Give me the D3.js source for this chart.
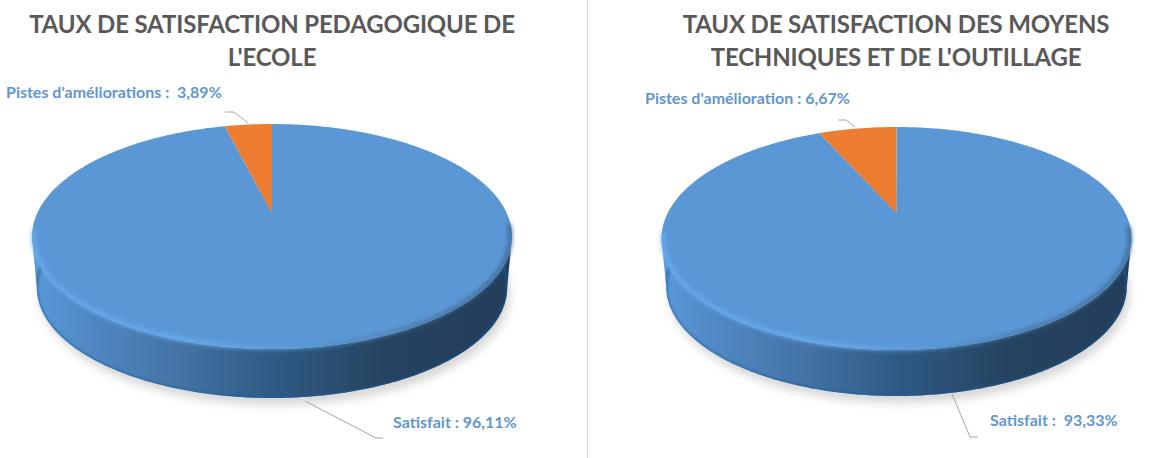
<!DOCTYPE html>
<meta charset="utf-8">
<head>
    <script src="https://d3js.org/d3.v7.min.js"></script>
    <style>
        html, body { margin: 0; padding: 0; background: white; }
        svg { display: block; }
        .title { font-family: Lato, sans-serif; font-weight: 700; font-size: 24px; letter-spacing: -0.16px; fill: #595959; text-anchor: middle; }
        .label { font-family: Lato, sans-serif; font-weight: 700; font-size: 16px; fill: #5f96cf; white-space: pre; }
        .leader { fill: none; stroke: #a6a6a6; stroke-width: 1; }
    </style>
</head>
<div id="my_dataviz"></div>

<script>
    // data
    var categories = ["Satisfait", "Pistes d'amélioration"];
    var valuesEcole = [96.11, 3.89];
    var valuesOutillage = [93.33, 6.67];
    var titleEcole = ["TAUX DE SATISFACTION PEDAGOGIQUE DE", "L'ECOLE"];
    var titleOutillage = ["TAUX DE SATISFACTION DES MOYENS", "TECHNIQUES ET DE L'OUTILLAGE"];
    var labelsEcole = ["Satisfait : 96,11%", "Pistes d'améliorations :  3,89%"];
    var labelsOutillage = ["Satisfait :  93,33%", "Pistes d'amélioration : 6,67%"];

    var sliceColor = d3.scaleOrdinal().domain(categories).range(["#5b97d5", "#ed7d31"]);

    // layout of each pie: apex, far and near edge of the top face, near edge of the wall
    var charts = [
        {id: "a", values: valuesEcole, title: titleEcole, labels: labelsEcole,
         cx: 272, apex: 213, far: 124, near: 349, halfWidth: 240, wallBottom: 398, titleX: 272,
         labelPos: [[393, 428], [6, 98]],
         leaders: [[[305, 401], [376, 438], [383, 438]], [[248, 123], [234, 112], [225, 112]]]},
        {id: "b", values: valuesOutillage, title: titleOutillage, labels: labelsOutillage,
         cx: 896.5, apex: 213, far: 127, near: 350, halfWidth: 235, wallBottom: 396, titleX: 896,
         labelPos: [[990, 426], [645, 104]],
         leaders: [[[952, 394], [970, 437], [978, 437]], [[855, 127], [846, 120], [838, 120]]]}
    ];

    var svg = d3.select("#my_dataviz")
        .append("svg")
        .attr("width", 1161)
        .attr("height", 458);

    var defs = svg.append("defs");
    defs.append("filter").attr("id", "rimBlur").attr("x", "-5%").attr("y", "-10%").attr("width", "110%").attr("height", "120%")
        .append("feGaussianBlur").attr("stdDeviation", 1.9);
    defs.append("filter").attr("id", "edgeBlur").attr("x", "-5%").attr("y", "-10%").attr("width", "110%").attr("height", "120%")
        .append("feGaussianBlur").attr("stdDeviation", 1);
    defs.append("filter").attr("id", "shadowBlur").attr("x", "-5%").attr("y", "-10%").attr("width", "110%").attr("height", "120%")
        .append("feGaussianBlur").attr("stdDeviation", 4);

    // divider between the two charts
    svg.append("line")
        .attr("x1", 587.5).attr("x2", 587.5)
        .attr("y1", 0).attr("y2", 458)
        .attr("stroke", "#d9d9d9");

    var pie = d3.pie().sort(null);
    var line = d3.line();

    // perspective: point on the unit disc -> screen
    function projector(c, scale, y0) {
        var ratio = (c.near - c.apex) / (c.apex - c.far);
        var p = (ratio - 1) / (ratio + 1);
        var b = (c.apex - c.far) * (1 + p) * scale;
        var a = c.halfWidth * Math.sqrt(1 - p * p) * scale;
        var fn = function(angle, r) {
            var u = r * Math.sin(angle), v = -r * Math.cos(angle);
            var w = 1 - p * v;
            return [c.cx + a * u / w, y0 + b * v / w];
        };
        fn.p = p;
        fn.b = b;
        return fn;
    }

    function arcPoints(proj, from, to, r) {
        var n = Math.max(2, Math.ceil(Math.abs(to - from) / 0.01));
        return d3.range(n + 1).map(function(i) { return proj(from + (to - from) * i / n, r === undefined ? 1 : r); });
    }

    charts.forEach(function(c) {
        var top = projector(c, 1, c.apex);
        var bScale = 0.98;
        var bottomBase = projector(c, bScale, 0);
        var bottomY0 = c.wallBottom - bottomBase.b / (1 - bottomBase.p);
        var bottom = projector(c, bScale, bottomY0);

        // angles of the widest points of the ellipse (sin t = p on the near side)
        var tilt = Math.asin(top.p);
        var rightA = Math.PI / 2 + tilt, leftA = 3 * Math.PI / 2 - tilt;

        var grad = defs.append("linearGradient").attr("id", "wall" + c.id)
            .attr("gradientUnits", "userSpaceOnUse")
            .attr("x1", c.cx - c.halfWidth).attr("x2", c.cx + c.halfWidth)
            .attr("y1", 0).attr("y2", 0);
        [[0, "#5a99da"], [0.12, "#5088c4"], [0.3, "#4474a6"], [0.5, "#2f5a85"], [0.62, "#2b4f73"], [0.75, "#25425f"], [1, "#233e5a"]]
            .forEach(function(s) { grad.append("stop").attr("offset", s[0]).attr("stop-color", s[1]); });

        var rim = defs.append("linearGradient").attr("id", "rim" + c.id)
            .attr("gradientUnits", "userSpaceOnUse")
            .attr("x1", c.cx - c.halfWidth).attr("x2", c.cx + c.halfWidth)
            .attr("y1", 0).attr("y2", 0);
        [[0, "#69aef2"], [0.35, "#6cb0f2"], [0.55, "#5b9ad8"], [0.8, "#44749f"], [1, "#3a638c"]]
            .forEach(function(s) { rim.append("stop").attr("offset", s[0]).attr("stop-color", s[1]); });

        var g = svg.append("g");

        // soft shadow under the disc
        g.append("path")
            .attr("d", line(arcPoints(bottom, 0, 2 * Math.PI)) + "Z")
            .attr("transform", "translate(3,7)")
            .attr("fill", "#8c8c8c")
            .attr("opacity", 0.34)
            .attr("filter", "url(#shadowBlur)");

        // wall: near half of the top edge, back along the near half of the bottom edge
        var wallPts = arcPoints(top, leftA, rightA).concat(arcPoints(bottom, rightA, leftA));
        var wallPath = line(wallPts) + "Z";
        defs.append("clipPath").attr("id", "wallClip" + c.id).append("path").attr("d", wallPath);
        g.append("path")
            .attr("d", wallPath)
            .attr("fill", "url(#wall" + c.id + ")");

        // bluish bevel along the foot of the wall
        g.append("g").attr("clip-path", "url(#wallClip" + c.id + ")")
            .append("path")
            .attr("d", line(arcPoints(bottom, rightA - 0.5, leftA + 0.3)))
            .attr("fill", "none")
            .attr("stroke", "#1f5f9e")
            .attr("stroke-width", 3)
            .attr("opacity", 0.55)
            .attr("filter", "url(#edgeBlur)");

        // top face, one path per slice
        pie(c.values).forEach(function(d, i) {
            var pts = [top(0, 0)].concat(arcPoints(top, d.startAngle, d.endAngle));
            g.append("path")
                .attr("d", line(pts) + "Z")
                .attr("fill", sliceColor(categories[i]));
        });

        // bevel along the near edge of the top face
        g.append("path")
            .attr("d", line(arcPoints(top, leftA + 0.04, rightA - 0.1, 0.993)))
            .attr("fill", "none")
            .attr("stroke", "url(#rim" + c.id + ")")
            .attr("stroke-width", 3.5)
            .attr("stroke-linecap", "round")
            .attr("filter", "url(#rimBlur)");

        // title
        c.title.forEach(function(t, i) {
            svg.append("text")
                .attr("class", "title")
                .attr("x", c.titleX)
                .attr("y", 33 + i * 33)
                .text(t);
        });

        // data labels and their leader lines
        c.labels.forEach(function(t, i) {
            svg.append("path").attr("class", "leader").attr("d", line(c.leaders[i]));
            svg.append("text")
                .attr("class", "label")
                .attr("x", c.labelPos[i][0])
                .attr("y", c.labelPos[i][1])
                .text(t);
        });
    });
</script>
